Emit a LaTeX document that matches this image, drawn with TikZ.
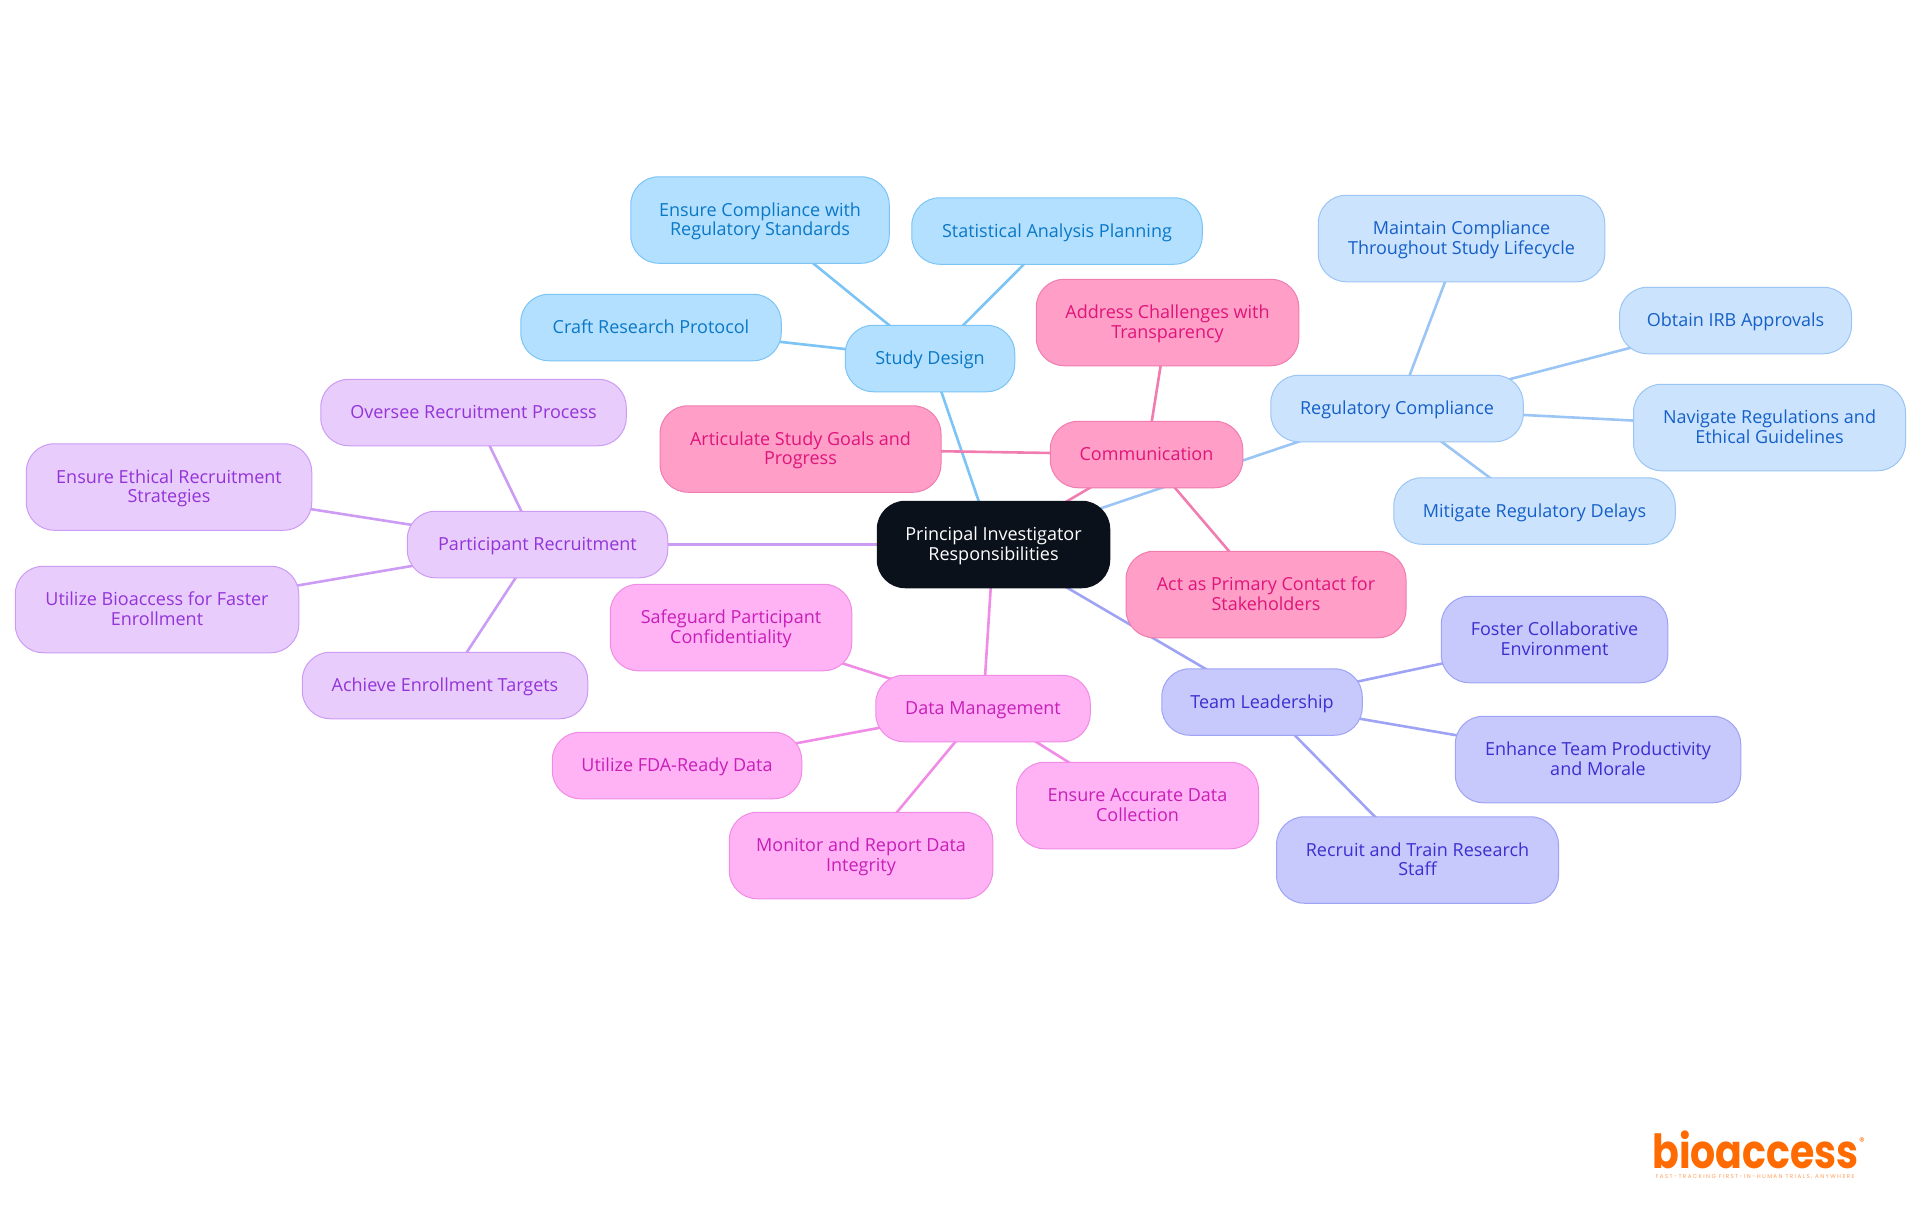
\documentclass[tikz,border=0pt]{standalone}
\usepackage{fontspec}
\setmainfont{Open Sans}
\newfontfamily\logofont{Poppins}
\newfontfamily\logotagfont[LetterSpace=25]{Poppins}
\usetikzlibrary{backgrounds}
\definecolor{rootfill}{HTML}{0B111A}
\definecolor{sdfill}{HTML}{B3E0FF}
\definecolor{sdline}{HTML}{7CC4F5}
\definecolor{sdtext}{HTML}{0B78C6}
\definecolor{rcfill}{HTML}{CCE3FD}
\definecolor{rcline}{HTML}{9AC5F5}
\definecolor{rctext}{HTML}{1560C8}
\definecolor{cmfill}{HTML}{FF9FC8}
\definecolor{cmline}{HTML}{F07CB0}
\definecolor{cmtext}{HTML}{E0147A}
\definecolor{tlfill}{HTML}{C7C9FC}
\definecolor{tlline}{HTML}{9EA3F5}
\definecolor{tltext}{HTML}{3B2FD0}
\definecolor{dmfill}{HTML}{FFB3F5}
\definecolor{dmline}{HTML}{F08CE5}
\definecolor{dmtext}{HTML}{C81EB8}
\definecolor{prfill}{HTML}{E8CCFC}
\definecolor{prline}{HTML}{CC9CF5}
\definecolor{prtext}{HTML}{9333D8}
\definecolor{logoorange}{HTML}{FF6B00}
\tikzset{
    topic/.style={rectangle,rounded corners=28pt,line width=1pt,align=center,inner sep=0pt,minimum height=66.5pt,text height=16.5pt,text depth=4pt,font=\fontsize{18}{19.5}\selectfont},
    tall/.style={minimum height=86.5pt,text height=35.5pt},
    sdnode/.style={topic,draw=sdline,fill=sdfill,text=sdtext},
    rcnode/.style={topic,draw=rcline,fill=rcfill,text=rctext},
    cmnode/.style={topic,draw=cmline,fill=cmfill,text=cmtext},
    tlnode/.style={topic,draw=tlline,fill=tlfill,text=tltext},
    dmnode/.style={topic,draw=dmline,fill=dmfill,text=dmtext},
    prnode/.style={topic,draw=prline,fill=prfill,text=prtext},
    link/.style={line width=2.6pt}
}
\begin{document}
\begin{tikzpicture}[x=1pt,y=-1pt]
    \useasboundingbox (0,0) rectangle (1920,1215);
    \node (root) [topic,tall,draw=rootfill,fill=rootfill,text=white,minimum width=232.5pt] at (993.5,544.5) {Principal Investigator\\Responsibilities};

    \node (sd) [sdnode,minimum width=169.5pt] at (930,358.5) {Study Design};
    \node (sd1) [sdnode,tall,minimum width=258.5pt] at (760,220) {Ensure Compliance with\\Regulatory Standards};
    \node (sd2) [sdnode,minimum width=290.5pt] at (1057,231) {Statistical Analysis Planning};
    \node (sd3) [sdnode,minimum width=260.5pt] at (651,327.5) {Craft Research Protocol};

    \node (rc) [rcnode,minimum width=252.5pt] at (1397,408.5) {Regulatory Compliance};
    \node (rc1) [rcnode,tall,minimum width=286.5pt] at (1461.5,238.5) {Maintain Compliance\\Throughout Study Lifecycle};
    \node (rc2) [rcnode,minimum width=232pt] at (1735.5,320.5) {Obtain IRB Approvals};
    \node (rc3) [rcnode,tall,minimum width=272pt] at (1769.5,427.5) {Navigate Regulations and\\Ethical Guidelines};
    \node (rc4) [rcnode,minimum width=281.5pt] at (1534.5,511) {Mitigate Regulatory Delays};

    \node (cm) [cmnode,minimum width=192.5pt] at (1146.5,454.5) {Communication};
    \node (cm1) [cmnode,tall,minimum width=262.5pt] at (1167.5,322.5) {Address Challenges with\\Transparency};
    \node (cm2) [cmnode,tall,minimum width=281pt] at (800.5,449) {Articulate Study Goals and\\Progress};
    \node (cm3) [cmnode,tall,minimum width=280pt] at (1266,594.5) {Act as Primary Contact for\\Stakeholders};

    \node (tl) [tlnode,minimum width=200.5pt] at (1262,702) {Team Leadership};
    \node (tl1) [tlnode,tall,minimum width=226.5pt] at (1554.5,639.5) {Foster Collaborative\\Environment};
    \node (tl2) [tlnode,tall,minimum width=285.5pt] at (1598,759.5) {Enhance Team Productivity\\and Morale};
    \node (tl3) [tlnode,tall,minimum width=282pt] at (1417.5,860) {Recruit and Train Research\\Staff};

    \node (dm) [dmnode,minimum width=214.5pt] at (983,708.5) {Data Management};
    \node (dm1) [dmnode,tall,minimum width=241.5pt] at (731,627.5) {Safeguard Participant\\Confidentiality};
    \node (dm2) [dmnode,minimum width=249.5pt] at (677,765.5) {Utilize FDA-Ready Data};
    \node (dm3) [dmnode,tall,minimum width=263.5pt] at (861,855.5) {Monitor and Report Data\\Integrity};
    \node (dm4) [dmnode,tall,minimum width=242pt] at (1137.5,805.5) {Ensure Accurate Data\\Collection};

    \node (pr) [prnode,minimum width=260.5pt] at (537.5,544.5) {Participant Recruitment};
    \node (pr1) [prnode,minimum width=305.5pt] at (473.5,412.5) {Oversee Recruitment Process};
    \node (pr2) [prnode,tall,minimum width=285.5pt] at (169,487) {Ensure Ethical Recruitment\\Strategies};
    \node (pr3) [prnode,tall,minimum width=283.5pt] at (157,609.5) {Utilize Bioaccess for Faster\\Enrollment};
    \node (pr4) [prnode,minimum width=285.5pt] at (445,685.5) {Achieve Enrollment Targets};

    \begin{pgfonlayer}{background}
        \foreach \a/\b/\c in {root/sd/sdline,sd/sd1/sdline,sd/sd2/sdline,sd/sd3/sdline,
            root/rc/rcline,rc/rc1/rcline,rc/rc2/rcline,rc/rc3/rcline,rc/rc4/rcline,
            root/cm/cmline,cm/cm1/cmline,cm/cm2/cmline,cm/cm3/cmline,
            root/tl/tlline,tl/tl1/tlline,tl/tl2/tlline,tl/tl3/tlline,
            root/dm/dmline,dm/dm1/dmline,dm/dm2/dmline,dm/dm3/dmline,dm/dm4/dmline,
            root/pr/prline,pr/pr1/prline,pr/pr2/prline,pr/pr3/prline,pr/pr4/prline}
            \draw [link,\c] (\a.center) -- (\b.center);
    \end{pgfonlayer}

    \node (logo) [anchor=base,text=logoorange,inner sep=0pt,text depth=0pt,font=\logofont\bfseries\fontsize{47}{47}\selectfont] at (1755.5,1168) {\scalebox{.84}[1]{bioaccess}};
    \node (logoreg) [text=logoorange,inner sep=0pt,font=\logofont\fontsize{11}{11}\selectfont] at (1862,1142) {®};
    \node (logotag) [text=logoorange!65,inner sep=0pt,font=\logotagfont\fontsize{5.6}{6}\selectfont] at (1755,1177) {FAST-TRACKING FIRST-IN-HUMAN TRIALS, ANYWHERE};
\end{tikzpicture}
\end{document}
